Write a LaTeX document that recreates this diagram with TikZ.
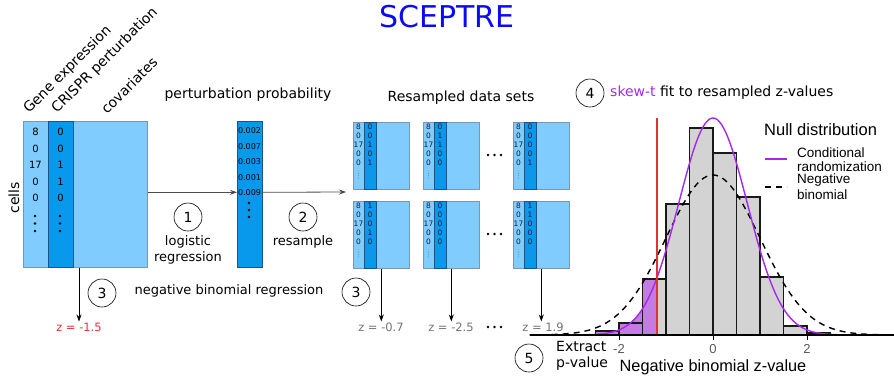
\documentclass[tikz,border=0pt]{standalone}
\usepackage{fontspec}
\setmainfont{DejaVu Sans}
\newfontfamily\plotfont{Liberation Sans}
\usetikzlibrary{arrows.meta}

\definecolor{cellblue}{RGB}{128,204,255}
\definecolor{pertblue}{RGB}{8,152,236}
\definecolor{celledge}{RGB}{125,150,175}
\definecolor{colline}{RGB}{25,85,135}
\definecolor{titleblue}{RGB}{10,10,245}
\definecolor{skewpurple}{RGB}{165,40,235}
\definecolor{tailfill}{RGB}{195,125,225}
\definecolor{histgray}{RGB}{211,211,211}
\definecolor{obsred}{RGB}{225,50,50}
\definecolor{zgray}{RGB}{115,115,115}
\definecolor{numink}{RGB}{20,30,60}
\definecolor{dotgray}{RGB}{120,130,140}

\newcommand\fsz[1]{\fontsize{#1}{#1}\selectfont}

% one resampled data set: name, left x, top y, perturbation column
\newcommand\resbox[4]{%
  \node[cellbox, minimum width=56pt, minimum height=67pt, anchor=north west] (#1) at (#2,#3) {};
  \node[pertbox, minimum width=12pt, minimum height=67pt, anchor=north west] (#1p) at (#2+11,#3) {};
  \foreach \v [count=\k from 0] in {8,0,17,0,0}
    \node[tinynum] at (#2+5.5,#3+4.5+9*\k) {\v};
  \foreach \v [count=\k from 0] in {#4}
    \node[tinynum] at (#2+17,#3+4.5+9*\k) {\v};
  \foreach \d in {0,1,2,3} {
    \fill[dotgray] (#2+5.5,#3+49+2.3*\d) circle (0.45pt);
    \fill[dotgray] (#2+17,#3+49+2.3*\d) circle (0.45pt);
  }
}

\tikzset{
  cellbox/.style={rectangle, fill=cellblue, draw=celledge, line width=0.6pt, inner sep=0pt},
  pertbox/.style={rectangle, fill=pertblue, draw=colline, line width=0.6pt, inner sep=0pt},
  tinynum/.style={inner sep=0pt, font=\fsz{7.5}, text=numink},
  cellnum/.style={inner sep=0pt, font=\fsz{10}},
  probnum/.style={inner sep=0pt, font=\fsz{8}},
  circnum/.style={circle, draw, line width=0.6pt, minimum size=28pt, inner sep=0pt, font=\fsz{14}},
  txt/.style={inner sep=0pt, font=\fsz{14}},
  smalltxt/.style={inner sep=0pt, font=\fsz{13}},
  zlab/.style={inner sep=1pt, font=\fsz{11.5}},
  arr/.style={line width=0.8pt, -{Stealth[length=7pt,width=5pt]}},
  harr/.style={draw=black!70, line width=0.8pt, -{Stealth[length=7pt,width=5pt,fill=black]}},
  bar/.style={draw=black!90, line width=1.3pt},
  legtxt/.style={inner sep=0pt, anchor=west, font=\plotfont\fsz{13.5}},
}

\begin{document}
\begin{tikzpicture}[x=1pt,y=-1pt]
\useasboundingbox (0,0) rectangle (894,376);

% title
\node[inner sep=0pt, font=\fsz{30}, text=titleblue] (title) at (447,17) {SCEPTRE};

% ---------- observed data ----------
\node[cellbox, minimum width=124pt, minimum height=146pt, anchor=north west] (mat) at (23,121) {};
\node[pertbox, minimum width=25pt, minimum height=146pt, anchor=north west] (pert) at (48,121) {};
\foreach \v [count=\k from 0] in {8,0,17,0,0}
  \node[cellnum] at (35.5,132+16.5*\k) {\v};
\foreach \v [count=\k from 0] in {0,0,1,1,0}
  \node[cellnum] at (60.5,132+16.5*\k) {\v};
\foreach \yy in {216,223.5,231} {
  \fill (35,\yy) circle (1.4pt);
  \fill (60,\yy) circle (1.4pt);
}
\node[txt, rotate=45, anchor=base west] (lge) at (29,114) {Gene expression};
\node[txt, rotate=45, anchor=base west] (lcr) at (57,114) {CRISPR perturbation};
\node[txt, rotate=45, anchor=base west] (lcv) at (107,115) {covariates};
\node[txt, rotate=90] (cells) at (14,198) {cells};

\node[zlab, text=obsred] (z0) at (79,327) {z = -1.5};
\draw[arr] (z0.north |- mat.south) -- (z0.north);
\node[circnum] (c3a) at (102,293) {3};
\node[smalltxt] (nbr) at (229,291) {negative binomial regression};

% ---------- perturbation probabilities ----------
\node[txt] (pplab) at (248,95) {perturbation probability};
\node[pertbox, minimum width=25pt, minimum height=146pt, anchor=north west] (prob) at (237,121) {};
\foreach \v [count=\k from 0] in {0.002,0.007,0.003,0.001,0.009}
  \node[probnum] at (249.5,131+15.5*\k) {\v};
\foreach \yy in {203,210,217}
  \fill (249,\yy) circle (1.3pt);
\draw[harr] ([yshift=2pt]mat.east) -- ([yshift=2pt]prob.west);
\node[circnum] (c1) at (188,217) {1};
\node[smalltxt] (lr1) at (188,242) {logistic};
\node[smalltxt] (lr2) at (188,258) {regression};

\coordinate (fan) at (346,192);
\draw[harr] ([yshift=2pt]prob.east) -- (fan);
\node[circnum] (c2) at (303,217) {2};
\node[smalltxt] (rs) at (303,242) {resample};

% ---------- resampled data sets ----------
\node[txt] (rdlab) at (461,98) {Resampled data sets};
\resbox{ra}{353}{122}{0,0,1,0,1}
\resbox{rb}{423}{122}{0,1,1,0,0}
\resbox{rc}{513}{122}{0,0,0,0,1}
\resbox{rd}{353}{201}{1,0,0,1,0}
\resbox{re}{423}{201}{0,0,0,0,0}
\resbox{rf}{513}{201}{1,1,0,0,0}
\foreach \xx in {488,494.5,501} {
  \fill (\xx,155) circle (1.3pt);
  \fill (\xx,234) circle (1.3pt);
  \fill (\xx,327) circle (1.3pt);
}
\node[zlab, text=zgray] (z1) at (381,327) {z = -0.7};
\node[zlab, text=zgray] (z2) at (451,327) {z = -2.5};
\node[zlab, text=zgray] (z3) at (543,327) {z = 1.9};
\draw[arr] (rd.south) -- (z1.north -| rd.south);
\draw[arr] (re.south) -- (z2.north -| re.south);
\draw[arr] (rf.south) -- (z3.north -| rf.south);
\node[circnum] (c3b) at (356,292) {3};

% ---------- null distribution ----------
\node[circnum] (c4) at (590,93) {4};
\node[txt, anchor=west] (fitlab) at (610,93) {\textcolor{skewpurple}{skew-t} fit to resampled z-values};

% histogram bars
\foreach \z/\t in {-2.5/331,-2/323,-1.5/279,-1/204,-0.5/128,0/153,0.5/197,1/277,1.5/326,2/333}
  \fill[histgray] ({713+47*\z},335) rectangle ({713+47*(\z+0.5)},\t);
% left tail beyond the observed value
\begin{scope}
  \clip (520,100) rectangle (657,335);
  \foreach \z/\t in {-2.5/331,-2/323,-1.5/279}
    \fill[tailfill] ({713+47*\z},335) rectangle ({713+47*(\z+0.5)},\t);
  \fill[tailfill] plot[domain=-3.6:-1.19, samples=60, smooth]
    ({713+47*\x},{335-217*exp(-((\x)*(\x))/1.0658)}) -- (657,335) -- cycle;
\end{scope}
\foreach \z/\t in {-2.5/331,-2/323,-1.5/279,-1/204,-0.5/128,0/153,0.5/197,1/277,1.5/326,2/333}
  \draw[bar] ({713+47*\z},335) rectangle ({713+47*(\z+0.5)},\t);

% fitted densities
\draw[black, line width=1.4pt, dash pattern=on 6pt off 5pt]
  plot[domain=-3.9:3.6, samples=120, smooth] ({713+47*\x},{335-160*exp(-((\x)*(\x))/2)});
\draw[skewpurple, line width=1.4pt]
  plot[domain=-3.6:2.7, samples=120, smooth] ({713+47*\x},{335-217*exp(-((\x)*(\x))/1.0658)});

% observed statistic
\coordinate (obstop) at (657,118);
\coordinate (obsbot) at (657,335);
\draw[obsred, line width=1.3pt] (obstop) -- (obsbot);

% axis
\coordinate (axl) at (530,335);
\coordinate (axr) at (894,335);
\draw[line width=1.3pt] (axl) -- (axr);
\foreach \z/\l in {-2/-2,0/0,2/2} {
  \draw[line width=0.8pt] ({713+47*\z},335) -- ({713+47*\z},340);
  \node[inner sep=0pt, font=\plotfont\fsz{13}, text=black!65] at ({713+47*\z},349) {\l};
}
\node[inner sep=0pt, font=\plotfont\fsz{16.3}] (xlab) at (713,367) {Negative binomial z-value};

% legend
\node[inner sep=0pt, anchor=west, font=\plotfont\fsz{16.5}] (legt) at (764,130) {Null distribution};
\coordinate (lp1) at (765,159);
\coordinate (lp2) at (787,159);
\draw[skewpurple, line width=1.4pt] (lp1) -- (lp2);
\coordinate (ld1) at (765,187);
\coordinate (ld2) at (787,187);
\draw[black, line width=1.4pt, dash pattern=on 6pt off 5pt] (ld1) -- (ld2);
\node[legtxt] (lg1) at (797,153) {Conditional};
\node[legtxt] (lg2) at (797,167) {randomization};
\node[legtxt] (lg3) at (797,180) {Negative};
\node[legtxt] (lg4) at (797,195) {binomial};

% p-value step
\node[circnum] (c5) at (529,358) {5};
\node[txt, anchor=west] (ex1) at (556,346) {Extract};
\node[txt, anchor=west] (ex2) at (556,364) {p-value};
\end{tikzpicture}
\end{document}
